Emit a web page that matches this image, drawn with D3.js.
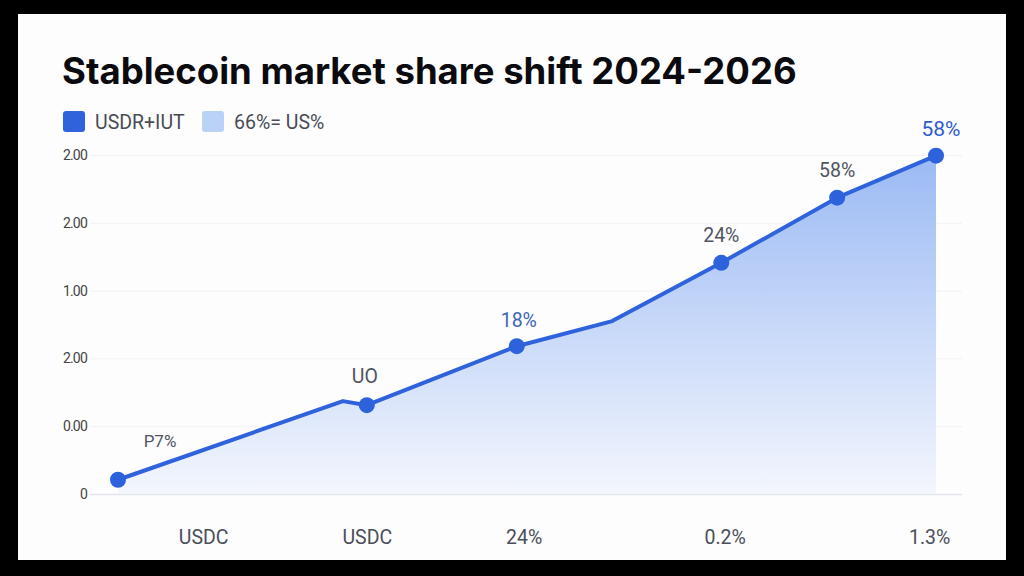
<!DOCTYPE html>
<html lang="en">
<head>
  <meta charset="UTF-8">
  <title>Stablecoin market share shift 2024-2026</title>
  <script src="https://d3js.org/d3.v7.min.js"></script>
  <style>
    body { margin: 0; background: #000; }
    #chart { display: block; }
  </style>
</head>
<body>
  <svg id="chart"></svg>
  <script>
    // Data
    const months = [0, 6.6, 7.3, 11.7, 14.5, 17.7, 21.1, 24];
    const values = [0.21, 1.37, 1.31, 2.18, 2.55, 3.41, 4.37, 4.99];
    const hasMarker = [true, false, true, true, false, true, true, true];
    const pointLabels = ["P7%", "", "UO", "18%", "", "24%", "58%", "58%"];
    const labelTone = ["grey", "", "grey", "mid", "", "grey", "grey", "blue"];
    const yTickValues = [0, 1, 2, 3, 4, 5];
    const yTickLabels = ["0", "0.00", "2.00", "1.00", "2.00", "2.00"];
    const xTickValues = [2.5, 7.3, 11.9, 17.8, 23.8];
    const xTickLabels = ["USDC", "USDC", "24%", "0.2%", "1.3%"];
    const legendLabels = ["USDR+IUT", "66%= US%"];

    const W = 1024, H = 576;
    const svg = d3.select("#chart").attr("width", W).attr("height", H);

    // white panel inside black frame
    svg.append("rect")
       .attr("x", 18).attr("y", 14)
       .attr("width", 988).attr("height", 546)
       .attr("fill", "#fdfdfe");

    const x = d3.scaleLinear().domain([0, 24]).range([118, 936]);
    const y = d3.scaleLinear().domain([0, 5]).range([494, 155]);

    const defs = svg.append("defs");
    const grad = defs.append("linearGradient")
       .attr("id", "areaFill")
       .attr("x1", 0).attr("y1", 0).attr("x2", 0).attr("y2", 1);
    grad.append("stop").attr("offset", "0%").attr("stop-color", "#9bbaf4");
    grad.append("stop").attr("offset", "100%").attr("stop-color", "#f3f6fd");

    // title
    svg.append("text")
       .attr("x", 62).attr("y", 84)
       .style("font-family", "Inter, 'DejaVu Sans', sans-serif")
       .style("font-weight", 700)
       .style("font-size", "36.5px")
       .attr("fill", "#0b0b0f")
       .text("Stablecoin market share shift 2024-2026");

    // legend
    const legColors = ["#2f62db", "#b9d2f6"];
    const legX = [63, 202];
    legendLabels.forEach((t, i) => {
      svg.append("rect")
         .attr("x", legX[i]).attr("y", 111)
         .attr("width", 22).attr("height", 21).attr("rx", 3)
         .attr("fill", legColors[i]);
      svg.append("text")
         .attr("x", legX[i] + 32).attr("y", 129)
         .style("font-family", "Roboto, sans-serif")
         .style("font-size", "19.5px")
         .attr("fill", "#484c55")
         .text(t);
    });

    // y axis grid + labels
    const yAxis = svg.append("g")
       .attr("transform", "translate(90,0)")
       .call(d3.axisLeft(y).tickValues(yTickValues)
         .tickSize(-872)
         .tickFormat((d, i) => yTickLabels[i]));
    yAxis.select(".domain").remove();
    yAxis.selectAll(".tick line").attr("stroke", d => d === 0 ? "#e3e5ea" : "#f1f2f5").attr("stroke-width", d => d === 0 ? 1.5 : 1);
    yAxis.selectAll(".tick text")
       .attr("x", -3)
       .style("font-family", "Roboto, sans-serif")
       .style("font-size", "14px")
       .style("letter-spacing", "-0.8px")
       .attr("fill", "#444");

    // area and line
    const area = d3.area()
       .x((d, i) => x(months[i]))
       .y0(y(0))
       .y1(d => y(d));
    svg.append("path")
       .datum(values)
       .attr("d", area)
       .attr("fill", "url(#areaFill)");

    const line = d3.line()
       .x((d, i) => x(months[i]))
       .y(d => y(d));
    svg.append("path")
       .datum(values)
       .attr("d", line)
       .attr("fill", "none")
       .attr("stroke", "#2f62db")
       .attr("stroke-width", 4)
       .attr("stroke-linejoin", "round");

    const markerPts = values
       .map((v, i) => ({ v: v, m: months[i], show: hasMarker[i] }))
       .filter(d => d.show);
    svg.selectAll("circle.pt")
       .data(markerPts)
       .enter().append("circle")
       .attr("class", "pt")
       .attr("cx", d => x(d.m))
       .attr("cy", d => y(d.v))
       .attr("r", 8)
       .attr("fill", "#2e62dc");

    // point labels
    const toneColor = { grey: "#50555f", mid: "#3f64b8", blue: "#2d5ccf" };
    const labelDx = [42, 0, -2, 2, 0, 0, 0, 5];
    const labelDy = [-33, 0, -22, -19, -21, -21, -21, -20];
    values.forEach((v, i) => {
      if (!pointLabels[i]) return;
      svg.append("text")
         .attr("x", x(months[i]) + labelDx[i])
         .attr("y", y(v) + labelDy[i])
         .attr("text-anchor", "middle")
         .style("font-family", "Roboto, sans-serif")
         .style("font-size", i === 0 ? "17px" : (i === 7 ? "21px" : "19.5px"))
         .attr("fill", toneColor[labelTone[i]])
         .text(pointLabels[i]);
    });

    // x axis labels
    const xAxis = svg.append("g")
       .attr("transform", "translate(0,494)")
       .call(d3.axisBottom(x).tickValues(xTickValues)
         .tickSize(0)
         .tickFormat((d, i) => xTickLabels[i]));
    xAxis.select(".domain").remove();
    xAxis.selectAll(".tick text")
       .attr("y", 36)
       .style("font-family", "Roboto, sans-serif")
       .style("font-size", "19.5px")
       .attr("fill", "#4a4f59");
  </script>
</body>
</html>
